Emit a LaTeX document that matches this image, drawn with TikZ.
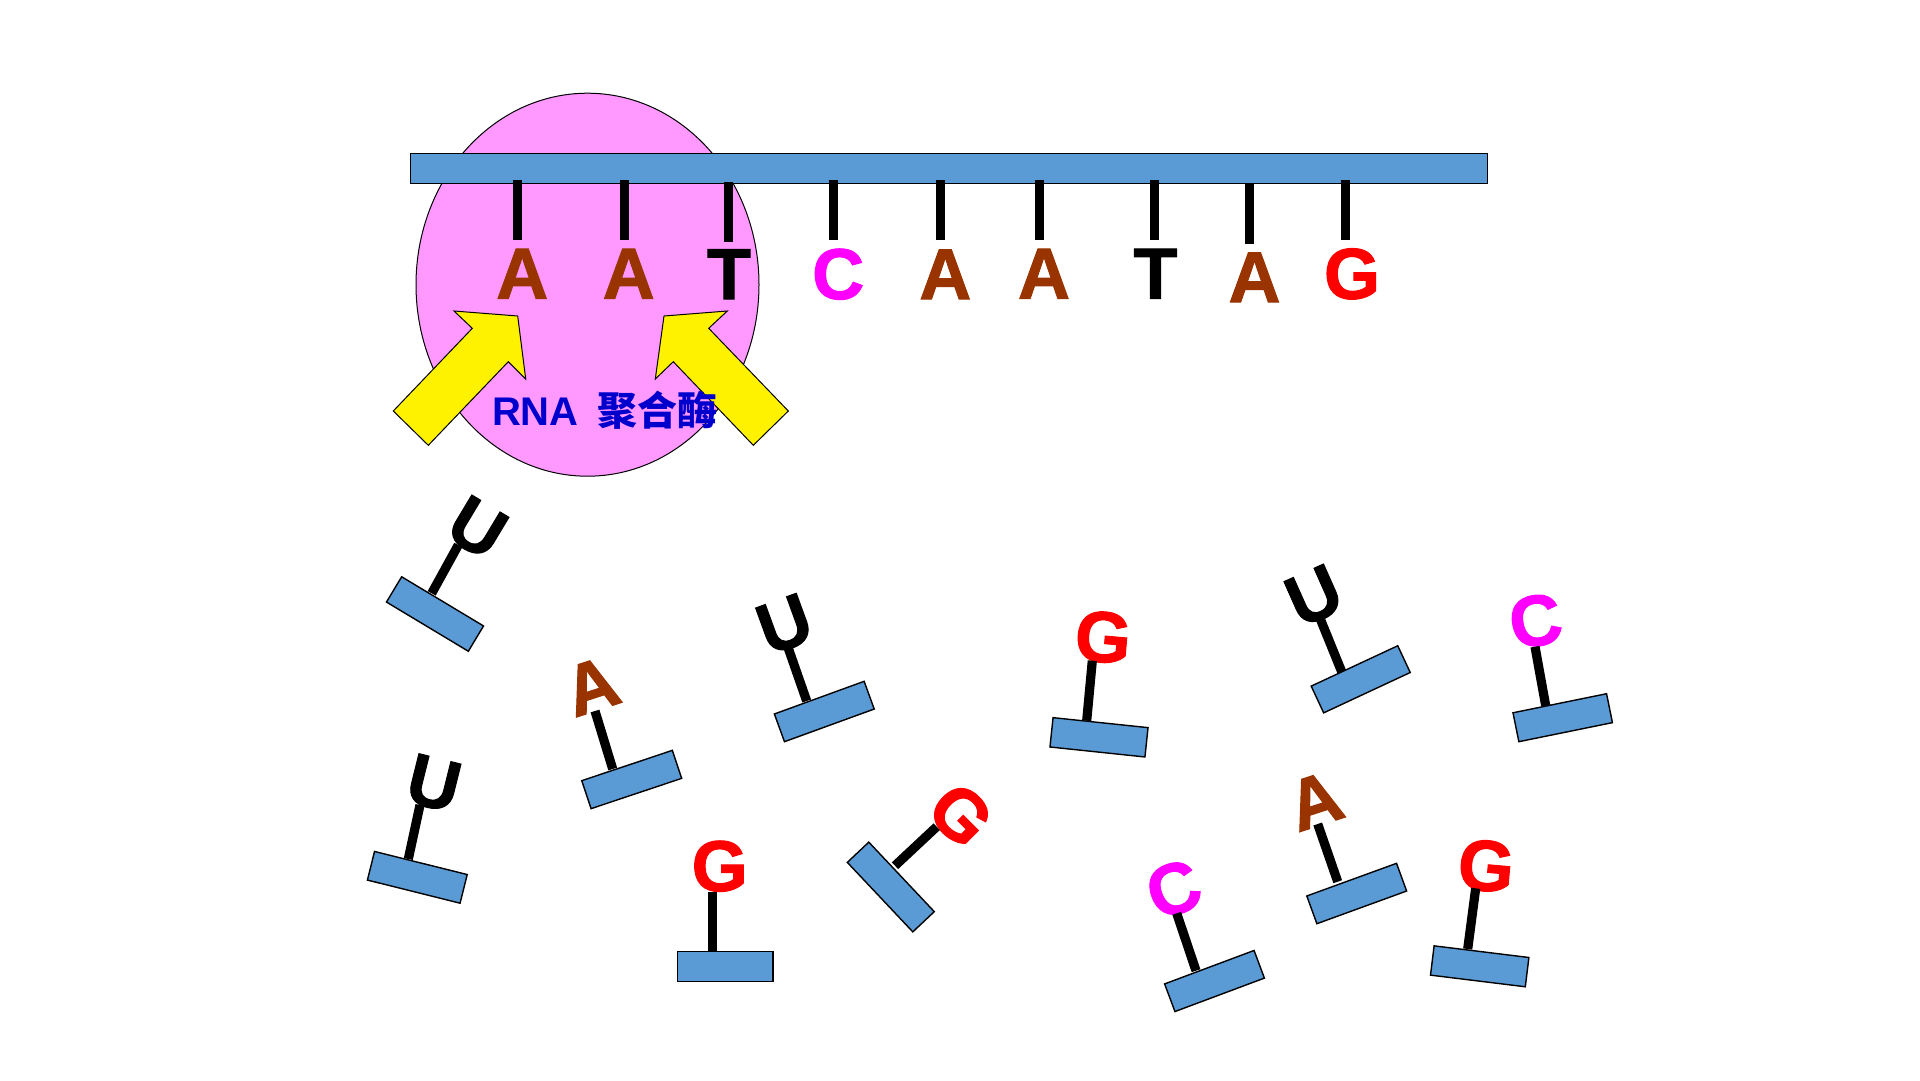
\documentclass[tikz,border=0pt]{standalone}
\usepackage{fontspec}
\setmainfont{Liberation Sans}
\newfontfamily\cjk{Noto Sans CJK SC}
\newfontfamily\heavybase{Liberation Sans}[BoldFeatures={FakeBold=1.4}]
\usetikzlibrary{shapes.geometric}
\definecolor{barblue}{HTML}{5B9BD5}
\definecolor{basebrown}{HTML}{993300}
\definecolor{basepink}{HTML}{FF00FF}
\definecolor{basered}{HTML}{FF0000}
\definecolor{enzymepink}{HTML}{FF99FF}
\definecolor{labelblue}{HTML}{0000CC}
\tikzset{
  enzyme/.style={ellipse,draw=black,line width=1pt,fill=enzymepink,inner sep=0pt,
                 minimum width=343pt,minimum height=383pt},
  block/.style={rectangle,draw=black,line width=1.4pt,fill=barblue,inner sep=0pt,outer sep=0pt,
                minimum width=95.5pt,minimum height=29.5pt},
  base/.style={inner sep=0pt,outer sep=0pt,text height=52pt,text depth=0pt,
               font=\heavybase\fontsize{72}{72}\selectfont\bfseries},
  stem/.style={draw=black,line width=9.2pt,line cap=butt},
  pointer/.style={draw=black,line width=1pt,fill=yellow,line join=miter},
  caption/.style={inner sep=0pt,outer sep=0pt,text=labelblue,
                  font=\fontsize{40}{40}\selectfont\bfseries}
}
\begin{document}
\begin{tikzpicture}[x=1pt,y=-1pt]
\useasboundingbox (0,0) rectangle (1920,1080);
\fill[white] (0,0) rectangle (1920,1080);

% polymerase behind the template strand
\node[enzyme] (pol) at (587.5,284.7) {};

% template strand with its bases
\node[block,minimum width=1077pt,minimum height=30pt] (strand) at (949,168.5) {};
\foreach \id/\sx/\sa/\sb/\ltr/\col/\lx/\ly in {
  1/517.3/180/240/A/basebrown/522.2/272.5,
  2/624.3/180/240/A/basebrown/628.7/272.5,
  3/728.3/181.7/241.7/T/black/729/273,
  4/833.3/180/240/C/basepink/838.2/273,
  5/940.3/180/240/A/basebrown/945.3/273.2,
  6/1039.3/180/240/A/basebrown/1044/272.5,
  7/1154.3/180.3/240/T/black/1155.5/272.5,
  8/1249.7/184.3/244/A/basebrown/1254.5/276.2,
  9/1345.3/180/240/G/basered/1352/272.7}{
  \coordinate (tfoot\id) at (\sx,\sa);
  \coordinate (thead\id) at (\sx,\sb);
  \draw[stem] (tfoot\id) -- (thead\id);
  \node[base,text=\col] (t\id) at (\lx,\ly) {\ltr};
}

% arrows into the active site
\draw[pointer] (454,311) -- (517.7,316) -- (525.7,379) -- (508.3,361.7)
  -- (428.3,445.3) -- (393.3,411) -- (472.3,328.3) -- cycle;
\draw[pointer] (727.3,311) -- (664,316) -- (655.3,379) -- (673.3,361.7)
  -- (753.3,445.3) -- (788.3,411) -- (708.7,328.3) -- cycle;

\node[caption,anchor=base west] (polname) at (492,425) {RNA\ \hspace{8pt}{\cjk 聚合酶}};

% free nucleotides
\foreach \id/\bx/\by/\ba/\ltr/\col/\lx/\ly/\la/\sx/\sy/\ex/\ey in {
  1/435/614/-31/U/black/478.3/526.3/-31/431.7/593.3/458.3/545,
  2/417.3/877.3/-14/U/black/434.3/781.7/-14/408.3/859/420/805,
  3/631.7/779.5/18.5/A/basebrown/591.3/685/18/612.7/769/595/711,
  4/824.3/711.5/20/U/black/784/622.7/20/806.7/701/788.3/648.3,
  5/725.3/966.5/0/G/basered/719.7/865/0/712.7/951.3/712.7/891.7,
  6/890.8/887/-46.7/G/basered/961.7/814/-45/895/865.7/936.7/826.7,
  7/1099/737.3/-6/G/basered/1103.3/636/-5/1086.7/720.7/1092.3/660.7,
  8/1360.7/679.3/25/U/black/1313.3/594.3/24/1341.7/671.7/1320/618.3,
  9/1562.7/717.7/11.5/C/basepink/1535.3/619.7/10/1545.7/705.7/1535/646.7,
  10/1214.5/981/20.5/C/basepink/1173.3/888/20/1196/970.7/1176.7/913.3,
  11/1356.7/893.5/20/A/basebrown/1314.7/799.7/18/1337.7/881.7/1317.7/824,
  12/1479.7/966.3/-7/G/basered/1486.3/864.7/-5/1467.7/949/1475.7/888.3}{
  \node[block,rotate=\ba] (b\id) at (\bx,\by) {};
  \node[base,text=\col,rotate=\la] (n\id) at (\lx,\ly) {\ltr};
  \coordinate (foot\id) at (\sx,\sy);
  \coordinate (head\id) at (\ex,\ey);
  \draw[stem] (foot\id) -- (head\id);
}
\end{tikzpicture}
\end{document}
